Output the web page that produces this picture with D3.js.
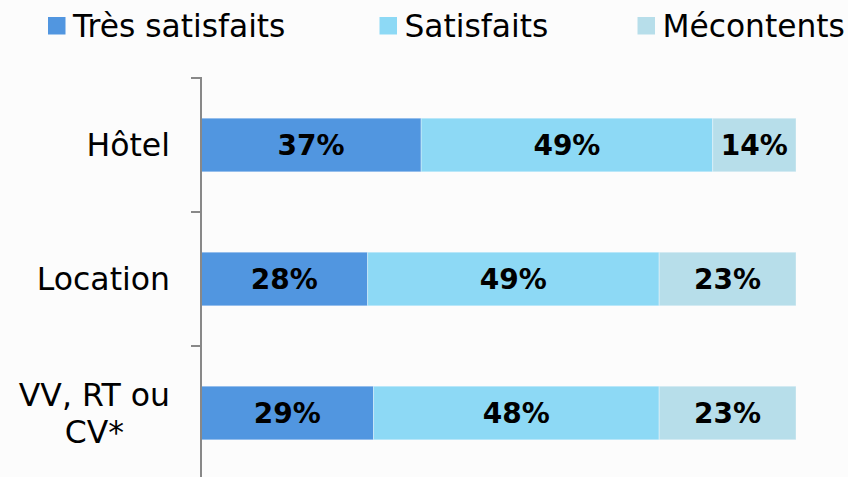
<!DOCTYPE html>
<html><head><meta charset="utf-8">
<script src="https://cdn.jsdelivr.net/npm/d3@7"></script>
<style>
html,body{margin:0;padding:0;background:#fcfcfc;}
svg{display:block;font-family:"DejaVu Sans",Verdana,sans-serif;}
</style></head>
<body>
<svg id="chart" width="848" height="477"></svg>
<script>
const categories = ["Hôtel", "Location", "VV, RT ou CV*"];
const categoryLines = [["Hôtel"], ["Location"], ["VV, RT ou", "CV*"]];
const seriesNames = ["Très satisfaits", "Satisfaits", "Mécontents"];
const tresSatisfaits = [37, 28, 29];
const satisfaits = [49, 49, 48];
const mecontents = [14, 23, 23];
const colors = ["#5196E0", "#8DD9F5", "#B7DEEA"];

const svg = d3.select("#chart");
const W = 848, H = 477;
const margin = {left: 201, right: 52, top: 78};

const rows = categories.map((c, i) => ({
  cat: c, lines: categoryLines[i],
  "Très satisfaits": tresSatisfaits[i],
  "Satisfaits": satisfaits[i],
  "Mécontents": mecontents[i]
}));
const stacked = d3.stack().keys(seriesNames)(rows);

const x = d3.scaleLinear().domain([0, 100]).range([margin.left, W - margin.right]);
const y = d3.scaleBand().domain(categories).range([margin.top, margin.top + 134 * 3]).paddingInner(0.6).paddingOuter(0.3);

// bars
const g = svg.append("g");
stacked.forEach((s, si) => {
  const gs = g.append("g");
  gs.selectAll("rect").data(s).enter().append("rect")
    .attr("x", d => x(d[0]))
    .attr("y", d => y(d.data.cat))
    .attr("width", d => x(d[1]) - x(d[0]))
    .attr("height", y.bandwidth())
    .attr("fill", colors[si])
    .attr("stroke", "rgba(255,255,255,0.35)")
    .attr("stroke-width", 1);
  gs.selectAll("text").data(s).enter().append("text")
    .attr("x", d => (x(d[0]) + x(d[1])) / 2)
    .attr("y", d => y(d.data.cat) + y.bandwidth() / 2 + 10)
    .attr("text-anchor", "middle")
    .attr("font-weight", "bold")
    .attr("font-size", 28)
    .attr("fill", "#000")
    .text(d => (d[1] - d[0]) + "%");
});

// axis
const yAxis = d3.axisLeft(y).tickSize(0).tickFormat("");
const ax = svg.append("g").attr("transform", `translate(${margin.left},0)`).call(yAxis);
ax.select(".domain").remove();
const bounds = categories.map((c, i) => margin.top + i * 134);
svg.append("g").selectAll("line").data(bounds).enter().append("line")
  .attr("x1", margin.left - 10).attr("x2", margin.left)
  .attr("y1", d => d).attr("y2", d => d)
  .attr("stroke", "#888").attr("stroke-width", 2);
svg.append("line").attr("x1", margin.left).attr("x2", margin.left)
  .attr("y1", margin.top - 1).attr("y2", H + 5).attr("stroke", "#888").attr("stroke-width", 2);

// category labels
rows.forEach(r => {
  const cy = y(r.cat) + y.bandwidth() / 2;
  const n = r.lines.length;
  const lh = 37;
  const t = svg.append("text").attr("font-size", 31.5).attr("fill", "#000");
  r.lines.forEach((ln, i) => {
    t.append("tspan").attr("y", cy + 11 + (i - (n - 1) / 2) * lh).text(ln);
  });
  const widths = [];
  t.selectAll("tspan").each(function(){ widths.push(this.getComputedTextLength()); });
  const maxW = Math.max(...widths);
  const right = 170;
  t.selectAll("tspan").attr("x", right - maxW / 2).attr("text-anchor", "middle");
});

// legend (layout positions)
const legendX = [48, 379.5, 637.5];
seriesNames.forEach((name, i) => {
  const lx = legendX[i];
  svg.append("rect").attr("x", lx).attr("y", 17).attr("width", 17.5).attr("height", 17.5).attr("fill", colors[i]);
  svg.append("text").attr("x", lx + 25).attr("y", 37).attr("font-size", 31.3).attr("fill", "#000").text(name);
});
</script>
</body></html>
